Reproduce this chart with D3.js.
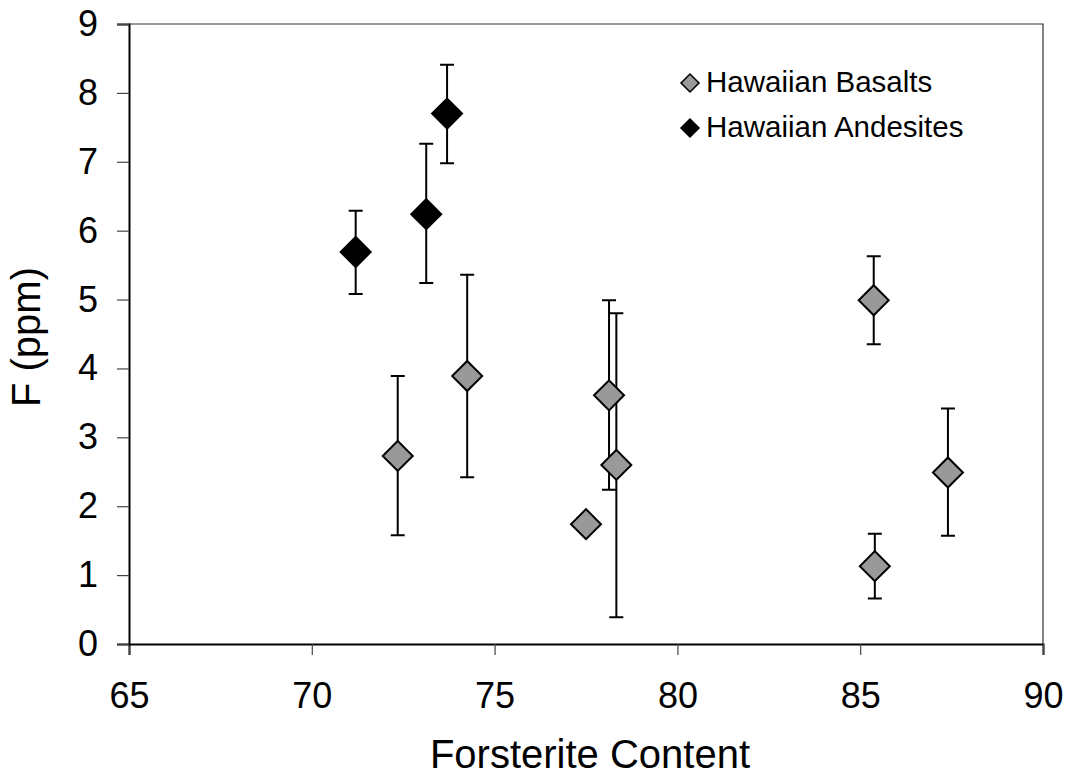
<!DOCTYPE html>
<html>
<head>
<meta charset="utf-8">
<script src="https://cdn.jsdelivr.net/npm/d3@7"></script>
<style>
  body { margin: 0; background: #fff; }
  text { font-family: "Liberation Sans", Arial, sans-serif; fill: #000; }
</style>
</head>
<body>
<div id="chart"></div>
<script>
// chart size
var w = 1070;
var h = 777;
var margin = {top: 24, right: 27, bottom: 133, left: 129};

// Hawaiian Basalts: forsterite, F ppm, error bar low/high (null = none)
var basaltX    = [72.35, 74.25, 77.5, 78.13, 78.33, 85.37, 85.4, 87.4];
var basaltY    = [2.73, 3.89, 1.74, 3.61, 2.60, 4.99, 1.13, 2.49];
var basaltLow  = [1.58, 2.42, null, 2.24, 0.39, 4.35, 0.66, 1.57];
var basaltHigh = [3.89, 5.36, null, 4.99, 4.80, 5.63, 1.60, 3.42];

// Hawaiian Andesites
var andesX    = [71.2, 73.13, 73.7];
var andesY    = [5.69, 6.24, 7.70];
var andesLow  = [5.08, 5.24, 6.98];
var andesHigh = [6.29, 7.26, 8.41];

var xTicks = [65, 70, 75, 80, 85, 90];
var yTicks = [0, 1, 2, 3, 4, 5, 6, 7, 8, 9];

var seriesNames = ["Hawaiian Basalts", "Hawaiian Andesites"];
var seriesFill = ["#999999", "#000000"];

function toPoints(xs, ys, lo, hi) {
    return xs.map(function(x, i) {
        return {x: x, y: ys[i], lo: lo[i], hi: hi[i]};
    });
}
var basalts = toPoints(basaltX, basaltY, basaltLow, basaltHigh);
var andesites = toPoints(andesX, andesY, andesLow, andesHigh);

var xScale = d3.scaleLinear().domain([65, 90]).range([margin.left, w - margin.right]);
var yScale = d3.scaleLinear().domain([0, 9]).range([h - margin.bottom, margin.top]);

var svg = d3.select("#chart").append("svg")
    .attr("width", w)
    .attr("height", h);

// frame (top + right)
svg.append("path")
    .attr("d", "M" + xScale(65) + "," + yScale(9) + "H" + xScale(90) + "V" + yScale(0))
    .attr("fill", "none")
    .attr("stroke", "#333")
    .attr("stroke-width", 1.2);

// x axis
var xAxis = d3.axisBottom(xScale).tickValues(xTicks).tickSize(11).tickPadding(27);
var gx = svg.append("g")
    .attr("transform", "translate(0," + yScale(0) + ")")
    .call(xAxis);
gx.select(".domain").attr("stroke", "#000").attr("stroke-width", 2);
gx.selectAll(".tick line").attr("stroke", "#444").attr("stroke-width", 1.2);
gx.selectAll(".tick text")
    .style("font-size", "36px")
    .style("font-family", "Liberation Sans, Arial, sans-serif")
    .attr("fill", "#000");

// y axis
var yAxis = d3.axisLeft(yScale).tickValues(yTicks).tickSize(12).tickPadding(19);
var gy = svg.append("g")
    .attr("transform", "translate(" + xScale(65) + ",0)")
    .call(yAxis);
gy.select(".domain").attr("stroke", "#000").attr("stroke-width", 2);
gy.selectAll(".tick line").attr("stroke", "#444").attr("stroke-width", 1.2);
gy.selectAll(".tick text")
    .style("font-size", "36px")
    .style("font-family", "Liberation Sans, Arial, sans-serif")
    .attr("fill", "#000");

// axis titles
svg.append("text")
    .attr("x", 590)
    .attr("y", 768)
    .attr("text-anchor", "middle")
    .style("font-size", "40px")
    .text("Forsterite Content");

svg.append("text")
    .attr("transform", "translate(40," + 337 + ") rotate(-90)")
    .attr("text-anchor", "middle")
    .style("font-size", "40px")
    .text("F (ppm)");

function drawSeries(data, fill) {
    var g = svg.append("g");
    var withErr = data.filter(function(d) { return d.lo !== null; });

    g.selectAll(".err")
        .data(withErr)
        .enter()
        .append("path")
        .attr("d", function(d) {
            var x = xScale(d.x), y0 = yScale(d.lo), y1 = yScale(d.hi);
            return "M" + x + "," + y0 + "V" + y1 +
                   "M" + (x - 7) + "," + y1 + "H" + (x + 7) +
                   "M" + (x - 7) + "," + y0 + "H" + (x + 7);
        })
        .attr("fill", "none")
        .attr("stroke", "#000")
        .attr("stroke-width", 2);

    // diamonds = squares turned 45 degrees
    g.selectAll(".pt")
        .data(data)
        .enter()
        .append("path")
        .attr("transform", function(d) {
            return "translate(" + xScale(d.x) + "," + yScale(d.y) + ") rotate(45)";
        })
        .attr("d", d3.symbol().type(d3.symbolSquare).size(2 * 15 * 15))
        .attr("fill", fill)
        .attr("stroke", "#000")
        .attr("stroke-width", 2);
}

drawSeries(basalts, seriesFill[0]);
drawSeries(andesites, seriesFill[1]);

// legend
var legend = svg.append("g");
seriesNames.forEach(function(name, i) {
    var y = 83 + i * 45;
    legend.append("path")
        .attr("transform", "translate(690," + y + ") rotate(45)")
        .attr("d", d3.symbol().type(d3.symbolSquare).size(2 * 9 * 9))
        .attr("fill", seriesFill[i])
        .attr("stroke", "#000")
        .attr("stroke-width", 1.5);
    legend.append("text")
        .attr("x", 706)
        .attr("y", y + 9)
        .style("font-size", "29.5px")
        .text(name);
});
</script>
</body>
</html>
